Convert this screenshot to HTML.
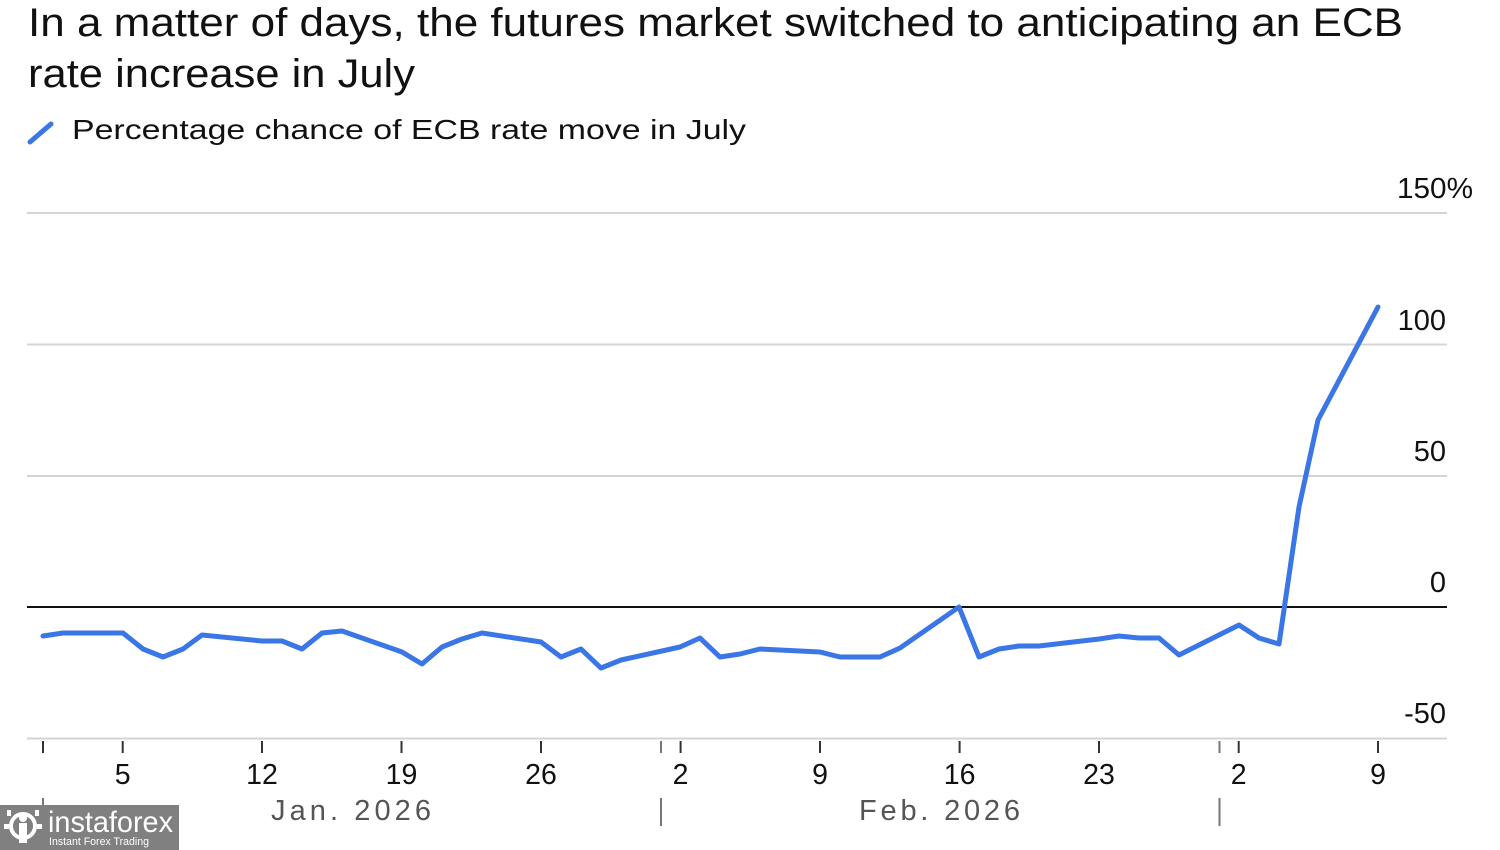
<!DOCTYPE html>
<html>
<head>
<meta charset="utf-8">
<style>
  html,body{margin:0;padding:0;background:#fff;}
  svg{display:block;}
  text{font-family:"Liberation Sans", Arial, sans-serif;}
</style>
</head>
<body>
<svg width="1500" height="850" viewBox="0 0 1500 850" xmlns="http://www.w3.org/2000/svg">
  <rect x="0" y="0" width="1500" height="850" fill="#fff"/>

  <!-- Title -->
  <text x="28" y="36" font-size="40" fill="#111" textLength="1375" lengthAdjust="spacingAndGlyphs">In a matter of days, the futures market switched to anticipating an ECB</text>
  <text x="28" y="87" font-size="40" fill="#111" textLength="387" lengthAdjust="spacingAndGlyphs">rate increase in July</text>

  <!-- Legend -->
  <line x1="30" y1="142" x2="51" y2="124" stroke="#3a76e6" stroke-width="5" stroke-linecap="round"/>
  <text x="72" y="139" font-size="28" fill="#111" textLength="674" lengthAdjust="spacingAndGlyphs">Percentage chance of ECB rate move in July</text>

  <!-- Gridlines -->
  <g stroke="#d4d4d4" stroke-width="2">
    <line x1="27" y1="213" x2="1447" y2="213"/>
    <line x1="27" y1="344.5" x2="1447" y2="344.5"/>
    <line x1="27" y1="476" x2="1447" y2="476"/>
    <line x1="27" y1="738.5" x2="1447" y2="738.5"/>
  </g>
  <line x1="27" y1="607" x2="1447" y2="607" stroke="#111" stroke-width="2"/>

  <!-- Y labels -->
  <g font-size="29" fill="#111">
    <text x="1397" y="198" textLength="76" lengthAdjust="spacingAndGlyphs">150%</text>
    <text x="1446" y="330" text-anchor="end">100</text>
    <text x="1446" y="461" text-anchor="end">50</text>
    <text x="1446" y="592" text-anchor="end">0</text>
    <text x="1446" y="723" text-anchor="end">-50</text>
  </g>

  <!-- X ticks -->
  <g stroke="#333" stroke-width="2">
    <line x1="43" y1="741" x2="43" y2="753"/>
    <line x1="122.7" y1="741" x2="122.7" y2="753"/>
    <line x1="262" y1="741" x2="262" y2="753"/>
    <line x1="401.5" y1="741" x2="401.5" y2="753"/>
    <line x1="541" y1="741" x2="541" y2="753"/>
    <line x1="680.6" y1="741" x2="680.6" y2="753"/>
    <line x1="820" y1="741" x2="820" y2="753"/>
    <line x1="959.6" y1="741" x2="959.6" y2="753"/>
    <line x1="1099" y1="741" x2="1099" y2="753"/>
    <line x1="1238.7" y1="741" x2="1238.7" y2="753"/>
    <line x1="1378" y1="741" x2="1378" y2="753"/>
  </g>
  <g stroke="#777" stroke-width="2">
    <line x1="661" y1="741" x2="661" y2="753"/>
    <line x1="1219.5" y1="741" x2="1219.5" y2="753"/>
    <line x1="43" y1="798" x2="43" y2="826"/>
    <line x1="661" y1="798" x2="661" y2="826"/>
    <line x1="1219.5" y1="798" x2="1219.5" y2="826"/>
  </g>

  <!-- X labels -->
  <g font-size="28.5" fill="#111" text-anchor="middle">
    <text x="122.7" y="784">5</text>
    <text x="262" y="784">12</text>
    <text x="401.5" y="784">19</text>
    <text x="541" y="784">26</text>
    <text x="680.6" y="784">2</text>
    <text x="820" y="784">9</text>
    <text x="959.6" y="784">16</text>
    <text x="1099" y="784">23</text>
    <text x="1238.7" y="784">2</text>
    <text x="1378" y="784">9</text>
  </g>
  <g font-size="29" fill="#555">
    <text x="271" y="820" textLength="160" lengthAdjust="spacing">Jan. 2026</text>
    <text x="859" y="820" textLength="161" lengthAdjust="spacing">Feb. 2026</text>
  </g>

  <!-- Series -->
  <polyline fill="none" stroke="#3a76e6" stroke-width="5" stroke-linejoin="round" stroke-linecap="round"
    points="43,636 63,633 123,633 143,649 163,657 183,649 202,635 262,641 282,641 302,649 322,633 342,631 402,652 422,664 442,647 462,639 482,633 541,642 561,657 581,649 601,668 621,660 680,647 700,638 720,657 740,654 760,649 820,652 840,657 860,657 880,657 900,648 959,607 979,657 999,649 1019,646 1039,646 1099,639 1119,636 1139,638 1159,638 1179,655 1239,625 1259,638 1279,644 1299,507 1318,420 1378,307"/>

  <!-- Watermark logo -->
  <rect x="0" y="805" width="179" height="45" fill="#808080"/>
  <g fill="none" stroke="#fff" stroke-width="4">
    <circle cx="23" cy="826" r="12"/>
  </g>
  <g fill="#fff">
    <circle cx="23" cy="818" r="4"/>
    <rect x="19" y="823" width="8" height="20"/>
    <rect x="7" y="810" width="4" height="6"/>
    <rect x="35" y="810" width="4" height="6"/>
    <rect x="4" y="824" width="5" height="5"/>
    <rect x="37" y="824" width="5" height="5"/>
  </g>
  <text x="48" y="832" font-size="30" fill="#fff" textLength="125" lengthAdjust="spacingAndGlyphs">instaforex</text>
  <text x="49" y="845" font-size="11" fill="#fff" textLength="100" lengthAdjust="spacingAndGlyphs">Instant Forex Trading</text>
</svg>
</body>
</html>
